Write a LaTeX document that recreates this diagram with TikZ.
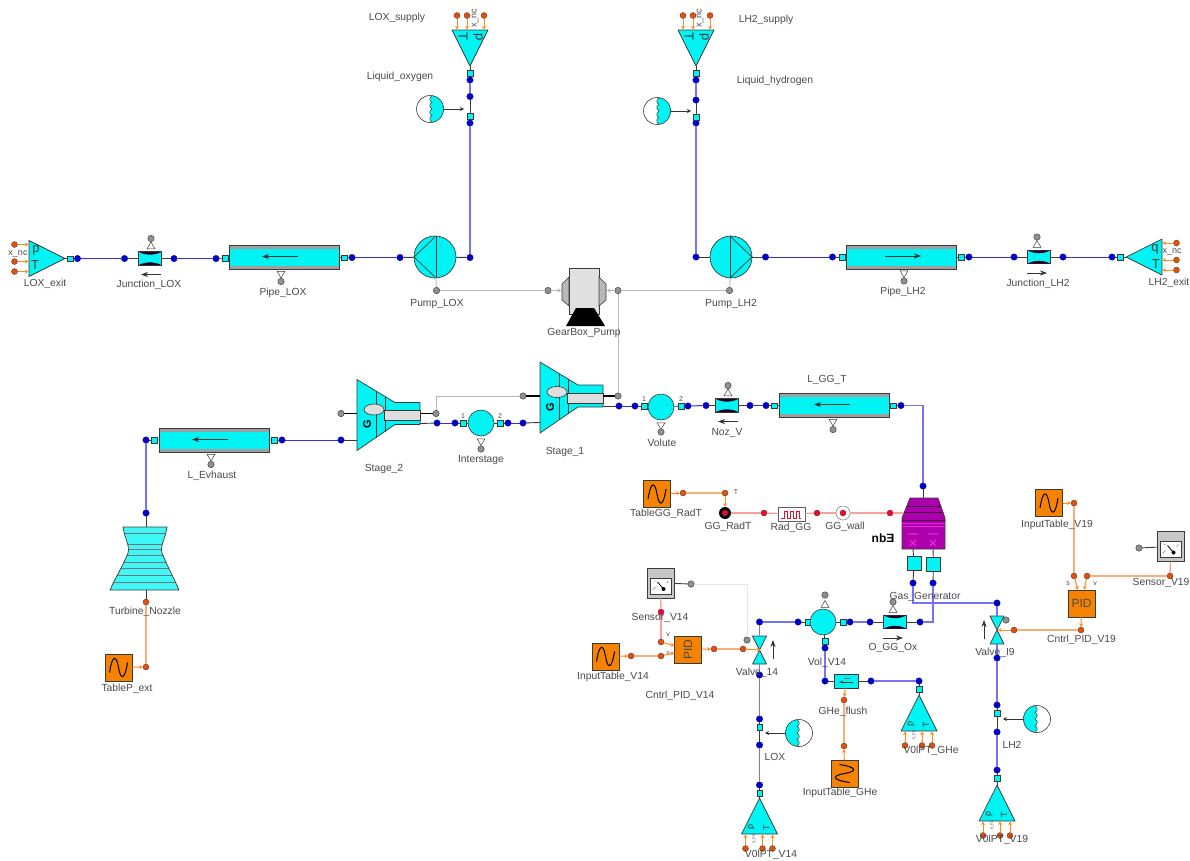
\documentclass[tikz,border=0pt]{standalone}
\usepackage{fontspec}
\setmainfont{Liberation Sans}
\usetikzlibrary{positioning, arrows.meta, shapes.geometric}
\definecolor{cyfill}{HTML}{00F4F4}
\definecolor{lineblue}{HTML}{3030E8}
\definecolor{softblue}{HTML}{7474F4}
\definecolor{dotblue}{HTML}{0000C8}
\definecolor{ctrlor}{HTML}{F8AE78}
\definecolor{ctrlar}{HTML}{FF8A1E}
\definecolor{dotor}{HTML}{E4500C}
\definecolor{boxor}{HTML}{F58200}
\definecolor{therm}{HTML}{F6A0A0}
\definecolor{dotred}{HTML}{E01030}
\definecolor{mech}{HTML}{B4B8B4}
\definecolor{dotgray}{HTML}{8C928C}
\definecolor{edgek}{HTML}{3A3A3A}
\definecolor{lblk}{HTML}{4A4A4A}
\definecolor{ggmag}{HTML}{AC00AC}
\definecolor{ggpink}{HTML}{F020E0}
\tikzset{
  lbl/.style={font=\fontsize{10.3}{12}\selectfont, text=lblk, inner sep=0pt},
  tiny/.style={font=\fontsize{7}{8}\selectfont, text=lblk, inner sep=0pt},
  nclbl/.style={font=\fontsize{9}{10}\selectfont, text=lblk, inner sep=0pt},
  bdot/.style={circle, fill=dotblue, draw=dotblue!80!black, line width=0.3pt, minimum size=6.5pt, inner sep=0pt},
  odot/.style={circle, fill=dotor, draw=edgek, line width=0.3pt, minimum size=6pt, inner sep=0pt},
  rdot/.style={circle, fill=dotred, draw=dotred!70!black, line width=0.3pt, minimum size=6pt, inner sep=0pt},
  gdot/.style={circle, fill=dotgray, draw=edgek, line width=0.4pt, minimum size=6.5pt, inner sep=0pt},
  sq/.style={rectangle, fill=cyfill, draw=edgek, line width=0.5pt, minimum size=5.5pt, inner sep=0pt},
  bigsq/.style={rectangle, fill=cyfill, draw=edgek, line width=0.5pt, minimum size=14pt, inner sep=0pt},
  volm/.style={circle, fill=cyfill, draw=edgek, line width=0.6pt, minimum size=26pt, inner sep=0pt},
  pumpn/.style={circle, fill=cyfill, draw=edgek, line width=0.7pt, minimum size=42pt, inner sep=0pt},
  pipeo/.style={rectangle, fill=gray!75, draw=edgek, line width=0.7pt, minimum width=110pt, minimum height=24pt, inner sep=0pt},
  pipei/.style={rectangle, fill=cyfill, minimum width=109pt, minimum height=17pt, inner sep=0pt},
  jbox/.style={rectangle, fill=cyfill, draw=edgek, line width=0.8pt, minimum width=23pt, minimum height=13.5pt, inner sep=0pt},
  tablebox/.style={rectangle, fill=boxor, draw=edgek, line width=0.5pt, minimum size=27pt, inner sep=0pt},
  pidbox/.style={rectangle, fill=boxor, draw=edgek, line width=0.5pt, minimum size=27pt, inner sep=0pt, font=\fontsize{12}{13}\selectfont, text=black!70},
  nubup/.style={regular polygon, regular polygon sides=3, fill=white, draw=edgek, line width=0.5pt, minimum size=9pt, inner sep=0pt},
  nubdn/.style={nubup, shape border rotate=180},
  tank/.style={fill=cyfill, draw=edgek, line width=0.7pt, line join=round},
  fluid/.style={lineblue, line width=1pt},
  fluidv/.style={softblue, line width=1.3pt},
  stub/.style={edgek, line width=0.9pt},
  shaft/.style={black, line width=1.3pt},
  mechl/.style={mech, line width=0.9pt},
  ctrl/.style={ctrlor, line width=1.6pt},
  ctrlarr/.style={ctrlar, line width=1pt, -{Stealth[length=3.5pt,width=4pt]}},
  mecharr/.style={mech, line width=0.9pt, -{Stealth[length=4pt,width=4pt]}},
  thermal/.style={therm, line width=1.3pt},
  flowar/.style={black!80, line width=0.7pt, -{Stealth[length=7pt,width=5pt]}},
}
\begin{document}
\begin{tikzpicture}[x=1pt, y=-1pt]
        \useasboundingbox (0,0) rectangle (1190,860);
        \fill[white] (0,0) rectangle (1190,860);
        \foreach \n/\x/\y in {lxa/77.5/258.5, jla/124.5/258.5, jlb/174/258.5, pla/216/258.5, plb/352/257.5, pua/400/257.5, pub/470/257.5,
            ssa/470/123, ssb/470/96.5, ssc/470/80, hsa/696/80, hsb/696/100, hsc/696/123, puc/696/257, pud/765.5/257,
            pha/832.5/257, phb/969/257, jha/1014/257, jhb/1063/257, hxa/1112/257,
            exa/146/440, exb/282/440, sta/341/440, stb/437/423, isa/455/423, isb/508/423, isc/523/423, stc/619/406,
            vla/635/406, vlb/688/406, nza/706/405.5, nzb/750/405.5, lga/766/405.5, lgb/901/405.5, ggt/923/486, nzt/146/513,
            gga/913/583, ggb/933/583, vta/997/603, oxa/920/622, oxb/870/622, oxc/850/622, vra/798/622, vrb/759.5/622, vlt/825/648,
            ghl/825/681, ghr/871/681, ghs/919/681, vab/759.5/675, loa/759.5/719, lob/759.5/745, loc/759.5/785,
            vbb/997/658, lha/997/705, lhb/997/732, lhc/997/770}
            \node[bdot] (\n) at (\x,\y) {};
        \foreach \n/\x/\y in {lxs/70/258.5, pls/225/258, prs/344/257.5, lss/470/73, lts/470/116, hss/696/73, hts/696/117,
            hps/842/257, hqs/961/257, hxs/1120/257, exl/154/440, exr/274/440, vll/644/406, vlr/681/406, isl/463/423, isr/500/423,
            lgl/774/405.5, lgr/893/405.5, vol/808/622, vor/843/622, vob/825/641, lxb/759.5/727, lvs/759.5/793, lhs/997/713, lhv/997/778, ghv/919/689}
            \node[sq] (\n) at (\x,\y) {};
        \foreach \n/\x/\y in {pulg/436.5/290.5, puhg/729.5/290.5, gbl/548/290.5, gbr/618/290.5, strr/618/396, strl/523/396, stsr/436/413.5, stsl/341/413.5,
            vwg/747/640, vxg/1006/620, snag/691/584, snbg/1139/548}
            \node[gdot] (\n) at (\x,\y) {};
        \foreach \n/\x/\y in {txa/146/602, txb/146/667, rta/683/493, rtb/725/493, sna/661/642, snb/661/656, sni/631/656, pva/714/649, pvb/743/649,
            pxa/1074/576, pxb/1087/576, pxi/1074/503, pxs/1170/576, pxc/1081/630, pxv/1014/630, gfa/844/700, gfb/844/746}
            \node[odot] (\n) at (\x,\y) {};
        \foreach \n/\x/\y in {rga/764/513, rgb/817/513, rgc/890/513, sns/661/612}
            \node[rdot] (\n) at (\x,\y) {};
        \foreach \n/\tx/\ty/\ang/\fl/\fs in {lxp/65/258.5/0/1/13, hxp/1126/257/0/-1/13, lsp/470/66/-90/1/13, hsp/696/66/-90/1/13, vvo/759.5/798/90/1/9, vvg/919/695/90/1/9, vvh/997/785/90/1/9}{
            \begin{scope}[shift={(\tx,\ty)}, rotate=\ang, xscale=\fl]
                \draw[tank] (0,0) -- (-36,-18) -- (-36,18) -- cycle;
                \coordinate (\n-tip) at (0,0);
                \node[font=\fontsize{\fs}{14}\selectfont, text=edgek, inner sep=0pt, transform shape] (\n-p) at (-29,-8) {p};
                \node[font=\fontsize{\fs}{14}\selectfont, text=edgek, inner sep=0pt, transform shape] (\n-t) at (-30,7) {T};
                \foreach \i/\dy in {1/-14, 2/3, 3/13}{
                    \node[odot] (\n-\i) at (-50.5,\dy) {};
                    \coordinate (\n-b\i) at (-36.5,\dy);
                    \draw[ctrlarr] (\n-\i) -- (\n-b\i);
                }
            \end{scope}
        }
        \node[nclbl] (ncla) at (18,254) {x\_nc};
        \node[nclbl] (nclb) at (1172,252) {x\_nc};
        \node[nclbl, rotate=90] (nclc) at (475,18) {x\_nc};
        \node[nclbl, rotate=90] (ncld) at (700,18) {x\_nc};
        \node[tiny, font=\fontsize{4.5}{5}\selectfont, rotate=90] (ncle) at (754,839) {x\_nc};
        \node[tiny, font=\fontsize{4.5}{5}\selectfont, rotate=90] (nclf) at (914,735) {x\_nc};
        \node[tiny, font=\fontsize{4.5}{5}\selectfont, rotate=90] (nclg) at (992,825) {x\_nc};
        \foreach \n/\x/\y/\ac/\d in {plox/284/257.5/280/-1, phh/901.5/257/903/1, pggt/834/405.5/832/-1, pexh/214/440.5/210/-1}{
            \node[pipeo] (\n) at (\x,\y) {};
            \node[pipei] (\n-i) at (\x,\y) {};
            \draw[flowar] (\ac-18*\d,\y-1) -- (\ac+18*\d,\y-1);
            \node[nubdn] (\n-n) at (\ac+1,\y+16) {};
            \node[gdot] (\n-g) at (\ac+1,\y+24) {};
        }
        \foreach \n/\x/\y/\d/\ax in {jlox/150/258.5/-1/151, jlh/1039/257/1/1037, jnz/727/405.5/-1/728, jox/895/622/1/893}{
            \node[jbox] (\n) at (\x,\y) {};
            \fill[black!75!violet, shift={(\x,\y)}] (-11,-6.5) -- (11,-6.5) .. controls (5,-3) and (-5,-3) .. cycle;
            \fill[black!75!violet, shift={(\x,\y)}] (-11,6.5) -- (11,6.5) .. controls (5,3) and (-5,3) .. cycle;
            \node[nubup] (\n-n) at (\ax,\y-12) {};
            \node[gdot] (\n-g) at (\ax,\y-20) {};
            \draw[flowar] (\ax-10*\d,\y+16) -- (\ax+10*\d,\y+16);
        }
        \foreach \n/\x/\y/\d in {pul/435/257/-1, puh/731/257/1}{
            \node[pumpn] (\n) at (\x,\y) {};
            \draw[edgek, line width=0.7pt, shift={(\x,\y)}] (0,-20) -- (21*\d,0) -- (0,20);
            \draw[edgek, line width=1pt, shift={(\x,\y)}] (-\d,-21) -- (-\d,21);
        }
        \node[rectangle, fill=black!12, draw=edgek, line width=0.7pt, minimum width=30pt, minimum height=46pt] (gbx) at (584,291) {};
        \draw[fill=black!28, draw=edgek, line width=0.6pt] (569,277) -- (562,284) -- (562,300) -- (569,306) -- cycle;
        \draw[fill=black!28, draw=edgek, line width=0.6pt] (599,277) -- (606,284) -- (606,300) -- (599,306) -- cycle;
        \fill[black] (566,326) -- (576,308) -- (594,308) -- (605,326) -- cycle;
        \coordinate (gbxl) at (561.5,290.5);
        \coordinate (gbxr) at (606.5,290.5);
        \foreach \n/\x/\y in {st1/540/396, st2/357/413.5}{
            \begin{scope}[shift={(\x,\y)}]
                \draw[tank] (0,-34) -- (38,-11) -- (63,-11) -- (63,11) -- (38,11) -- (0,37) -- cycle;
                \draw[edgek, line width=0.7pt] (19,-22.5) -- (19,24) (28,-17) -- (28,18);
                \draw[fill=black!13, draw=edgek, line width=0.6pt] (27,-3) rectangle (63,7);
                \node[ellipse, fill=black!13, draw=edgek, line width=0.6pt, minimum width=20pt, minimum height=11pt, inner sep=0pt] (\n-e) at (17,-4) {};
                \node[rotate=90, font=\bfseries\fontsize{11}{12}\selectfont, inner sep=0pt] (\n-g) at (10,11) {G};
                \coordinate (\n-r) at (63,0);
                \coordinate (\n-l) at (0,0);
                \coordinate (\n-lo) at (63,10);
                \coordinate (\n-li) at (0,26.5);
            \end{scope}
        }
        \foreach \n/\x/\y in {ist/481/423, vlu/661/407, vvl/823/622}
            \node[volm] (\n) at (\x,\y) {};
        \node[nubdn] (ist-n) at (481,441) {};
        \node[gdot] (ist-g) at (481,449) {};
        \node[nubdn] (vlu-n) at (661,425) {};
        \node[gdot] (vlu-g) at (661,432) {};
        \node[nubup] (vvl-n) at (825,605) {};
        \node[gdot] (vvl-g) at (825,595) {};
        \foreach \n/\x/\y/\t in {ilb/463/416/1, ilc/500/416/2, vld/644/399/1, vle/681/399/2, ggl/736/492/T, psa/1068/584/s, psb/1095/584/v, psc/668/635/v, psd/668/654/s}
            \node[tiny] (\n) at (\x,\y) {\t};
        \foreach \n/\x/\y/\fl in {flo/430/109/1, flh/657/111/1, flx/799/733/-1, fly/1037/719/-1}{
            \begin{scope}[shift={(\x,\y)}, xscale=\fl]
                \node[circle, fill=white, draw=edgek, line width=0.6pt, minimum size=27pt, inner sep=0pt] (\n) at (0,0) {};
                \filldraw[fill=cyfill, draw=edgek, line width=0.5pt] (2,-13.4) .. controls (9,-12.5) and (13.5,-7) .. (13.5,0)
                    .. controls (13.5,7) and (9,12.5) .. (2,13.4) .. controls (-1,11) and (-1,8) .. (2,6.7)
                    .. controls (-1,4.5) and (-1,2) .. (2,0) .. controls (-1,-2) and (-1,-4.5) .. (2,-6.7)
                    .. controls (-1,-8) and (-1,-11) .. (2,-13.4) -- cycle;
                \coordinate (\n-e) at (34,0);
                \coordinate (\n-s) at (14,0);
                \draw[black!80, line width=0.8pt, -{Stealth[length=4pt,width=4pt]}] (\n-s) -- (\n-e);
            \end{scope}
        }
        \foreach \n/\x/\y/\ax/\s in {vvw/759.5/650/773/1, vvx/997/630/984/1}{
            \draw[tank, shift={(\x,\y)}] (-7,-14) -- (7,-14) -- (-7,14) -- (7,14) -- cycle;
            \coordinate (\n-t) at (\x,\y-14);
            \coordinate (\n-b) at (\x,\y+14);
            \coordinate (\n-e) at (\x+1,\y);
            \coordinate (\n-w) at (\x-1,\y);
            \draw[flowar] (\ax,\y+9) -- (\ax,\y-10);
        }
        \foreach \n/\x/\y/\r in {tbp/118.5/667.5/0, tbr/657/494/0, tbi/605.5/656.5/0, tbg/844.5/773.5/90, tbv/1049/503/0}{
            \node[tablebox] (\n) at (\x,\y) {};
            \draw[black, line width=1pt, shift={(\x,\y)}, rotate=\r] (-9,5) .. controls (-6,-14) and (-2,-12) .. (0,0) .. controls (2,12) and (6,14) .. (9,-5);
        }
        \node[pidbox] (pida) at (688,649.5) {\rotatebox{90}{PID}};
        \node[pidbox] (pidb) at (1081.5,603.5) {PID};
        \foreach \n/\x/\y in {sna1/660.5/583, snb1/1170.5/546.5}{
            \node[rectangle, fill=black!22, draw=edgek, line width=0.6pt, minimum width=27pt, minimum height=30pt] (\n) at (\x,\y) {};
            \node[rectangle, fill=white, draw=edgek, line width=0.4pt, minimum width=21pt, minimum height=16pt] (\n-i) at (\x,\y+3) {};
            \draw[black, line width=0.8pt, shift={(\x,\y)}] (-3,-1) -- (3,6);
            \fill[black, shift={(\x,\y)}] (3,6) circle[radius=2];
            \draw[gray, line width=0.5pt, shift={(\x,\y)}] (-8,7) -- (-5,4) (6,0) -- (8,-2) (-7,-2) -- (-5,-2);
        }
        \node[circle, fill=black, minimum size=12pt, inner sep=0pt] (rad) at (725,513) {};
        \node[rdot] (rad-c) at (725,513) {};
        \node[rectangle, fill=white, draw=edgek!80, line width=0.9pt, minimum width=27pt, minimum height=14pt] (rgg) at (791.5,514) {};
        \draw[dotred, line width=0.8pt] (781,518) -- ++(3,0) -- ++(0,-7) -- ++(3,0) -- ++(0,7) -- ++(3,0) -- ++(0,-7) -- ++(3,0) -- ++(0,7) -- ++(3,0) -- ++(0,-7) -- ++(3,0) -- ++(0,7) -- ++(2,0);
        \node[circle, fill=white, draw=edgek!60, line width=0.6pt, minimum size=14pt, inner sep=0pt] (wal) at (843,513) {};
        \node[rdot] (wal-c) at (843,513) {};
        \begin{scope}
            \clip (123,527) -- (167,527) .. controls (165,540) and (160,545) .. (162,553) .. controls (168,568) and (174,578) .. (179,590) -- (110,590) .. controls (115,578) and (122,568) .. (128,553) .. controls (130,545) and (125,540) .. (123,527) -- cycle;
            \fill[cyfill!75!white] (100,520) rectangle (190,600);
            \foreach \y in {533, 544, 549, 555, 562, 568, 575, 582}
                \draw[edgek!70, line width=0.5pt] (100,\y) -- (190,\y);
        \end{scope}
        \draw[edgek, line width=0.7pt] (123,527) -- (167,527) .. controls (165,540) and (160,545) .. (162,553) .. controls (168,568) and (174,578) .. (179,590) -- (110,590) .. controls (115,578) and (122,568) .. (128,553) .. controls (130,545) and (125,540) .. (123,527) -- cycle;
        \coordinate (nozt) at (146,527);
        \coordinate (nozb) at (146,590);
        \begin{scope}
            \clip (910,498) -- (938,498) -- (945,518) -- (945,549) -- (902,549) -- (902,518) -- cycle;
            \fill[ggmag] (900,495) rectangle (950,552);
            \foreach \y in {506, 512, 520}
                \draw[black!60!ggmag, line width=0.9pt] (900,\y) -- (950,\y);
            \foreach \y in {523, 526}
                \draw[ggpink, line width=1pt] (900,\y) -- (950,\y);
            \draw[ggpink, line width=1.2pt] (908,534) -- (918,534) (928,534) -- (938,534) (910,540) -- (916,546) (916,540) -- (910,546) (930,540) -- (936,546) (936,540) -- (930,546);
        \end{scope}
        \draw[edgek, line width=0.7pt] (910,498) -- (938,498) -- (945,518) -- (945,549) -- (902,549) -- (902,518) -- cycle;
        \coordinate (ggn) at (923,498);
        \coordinate (ggw) at (903,513);
        \coordinate (gga1) at (913,549);
        \coordinate (ggb1) at (933,549);
        \node[bigsq] (gsl) at (914,563.5) {};
        \node[bigsq] (gsr) at (933.5,564) {};
        \node[font=\bfseries\fontsize{12}{13}\selectfont, inner sep=0pt] (gqn) at (883,538) {nb\reflectbox{E}};
        \node[rectangle, fill=cyfill, draw=edgek, line width=0.7pt, minimum width=24pt, minimum height=14pt, inner sep=0pt] (ghj) at (846,681) {};
        \draw[black!80, line width=0.6pt, -{Stealth[length=4pt,width=3pt]}] (853,682) -- (839,682);
        \draw[black!60, line width=0.5pt] (844,678) -- (850,678);
        \foreach \a/\b in {lxa/jla, jlb/pla, plb/pua, hsc/puc, pud/pha, phb/jha, jhb/hxa, exb/sta, stb/isa, isb/isc, stc/vla, vlb/nza, nzb/lga}
            \draw[fluid] (\a) -- (\b);
        \foreach \a/\b in {pub/ssa, ssb/ssc, hsa/hsb, hsc/puc, exa/nzt, vra/vrb, oxb/oxc, ghr/ghs, vab/loa, lob/loc, vbb/lha, lhb/lhc, vlt/ghl, vta/vvx-t, vrb/vvw-t, vvw-b/vab, vvx-b/vbb}
            \draw[fluidv] (\a) -- (\b);
        \draw[fluidv] (lgb) -| (ggt);
        \draw[fluidv] (gga) |- (vta);
        \draw[fluidv] (ggb) |- (oxa);
        \foreach \a/\b in {lxp-tip/lxs, lxs/lxa, jla/jlox, jlox/jlb, pla/pls, pls/plox, plox/prs, prs/plb, pua/pul, pul/pub, lsp-tip/lss, lss/ssc, ssb/lts, lts/ssa,
            hsp-tip/hss, hss/hsa, hsb/hts, hts/hsc, puc/puh, puh/pud, pha/hps, hps/phh, phh/hqs, hqs/phb, jha/jlh, jlh/jhb, hxa/hxs, hxs/hxp-tip,
            nza/jnz, jnz/nzb, lga/lgl, lgl/pggt, pggt/lgr, lgr/lgb, vla/vll, vll/vlu, vlu/vlr, vlr/vlb, stb/st2-lo, stc/st1-lo, isa/isl, isl/ist, ist/isr, isr/isb, isc/st1-li, sta/st2-li,
            exa/exl, exl/pexh, pexh/exr, exr/exb, nzt/nozt, gga/gsl, ggb/gsr, oxa/jox, jox/oxb, oxc/vor, vor/vvl, vvl/vol, vol/vra, vvl/vob, vob/vlt,
            ghl/ghj, ghj/ghr, ghs/ghv, ghv/vvg-tip, loa/lxb, lxb/lob, loc/lvs, lvs/vvo-tip, lha/lhs, lhs/lhb, lhc/lhv, lhv/vvh-tip, ggt/ggn, gsl/gga1, gsr/ggb1, txa/nozb}
            \draw[stub] (\a) -- (\b);
        \foreach \a/\b in {pulg/gbl, gbr/puhg, gbr/strr, pul/pulg, puh/puhg}
            \draw[mechl] (\a) -- (\b);
        \draw[mecharr] (gbl) -- (gbxl);
        \draw[mecharr] (gbr) -- (gbxr);
        \draw[mechl] (strl) -| (stsr);
        \draw[black!10, line width=0.8pt] (snag) -| (vwg);
        \foreach \a/\b in {st1-r/strr, st1-l/strl, st2-r/stsr, st2-l/stsl}
            \draw[shaft] (\a) -- (\b);
        \foreach \a/\b in {txa/txb, rta/rtb, pva/pvb, pxa/pxi, pxb/pxs, pxc/pxv, gfa/gfb, sni/snb}
            \draw[ctrl] (\a) -- (\b);
        \foreach \a/\b in {tbp/txb, tbr/rta, tbi/sni, tbv/pxi, ghj/gfa, tbg/gfb, pida/pva, pvb/vvw-e, sna/pida, snb/pida, rtb/rad, pxa/pidb, pxb/pidb, pidb/pxc, pxv/vvx-e}
            \draw[ctrlarr] (\a) -- (\b);
        \foreach \a/\b in {rad/rga, rga/rgg, rgg/rgb, rgb/wal, wal/rgc, rgc/ggw, sna1/sns, sns/sna}
            \draw[thermal] (\a) -- (\b);
        \draw[stub] (sna1) -- (snag);
        \draw[stub] (snb1) -- (snbg);
        \draw[thermal] (snb1) -- (pxs);
        \foreach \x/\y/\t in {45/284/LOX_exit, 149/285/Junction_LOX, 283/293/Pipe_LOX, 397/18/LOX_supply, 400/77/Liquid_oxygen, 766/20/LH2_supply, 775/81/Liquid_hydrogen,
            437/304/Pump_LOX, 731/304/Pump_LH2, 584/333/GearBox_Pump, 903/292/Pipe_LH2, 1038/284/Junction_LH2, 1169/283/LH2_exit,
            212/476/L_Evhaust, 384/469/Stage_2, 481/460/Interstage, 565/452/Stage_1, 662/443/Volute, 727/433/Noz_V, 827/380/L_GG_T,
            145/612/Turbine_Nozzle, 127/689/TableP_ext, 666/514/TableGG_RadT, 728/527/GG_RadT, 791/528/Rad_GG, 845/527/GG_wall, 925/597/Gas_Generator,
            893/648/O_GG_Ox, 660/618/Sensor_V14, 613/677/InputTable_V14, 680/696/Cntrl_PID_V14, 757/673/Valve_14, 827/663/Vol_V14, 843/712/GHe_flush,
            840/793/InputTable_GHe, 931/751/V0lPT_GHe, 775/757/LOX, 771/855/V0lPT_V14, 995/653/Valve_I9, 1057/525/InputTable_V19, 1081.5/640/Cntrl_PID_V19,
            1012/745/LH2, 1002/840/V0lPT_V19, 1161/583/Sensor_V19}
            \node[lbl] (\t) at (\x,\y) {\detokenize\expandafter{\t}};
    \end{tikzpicture}
\end{document}
